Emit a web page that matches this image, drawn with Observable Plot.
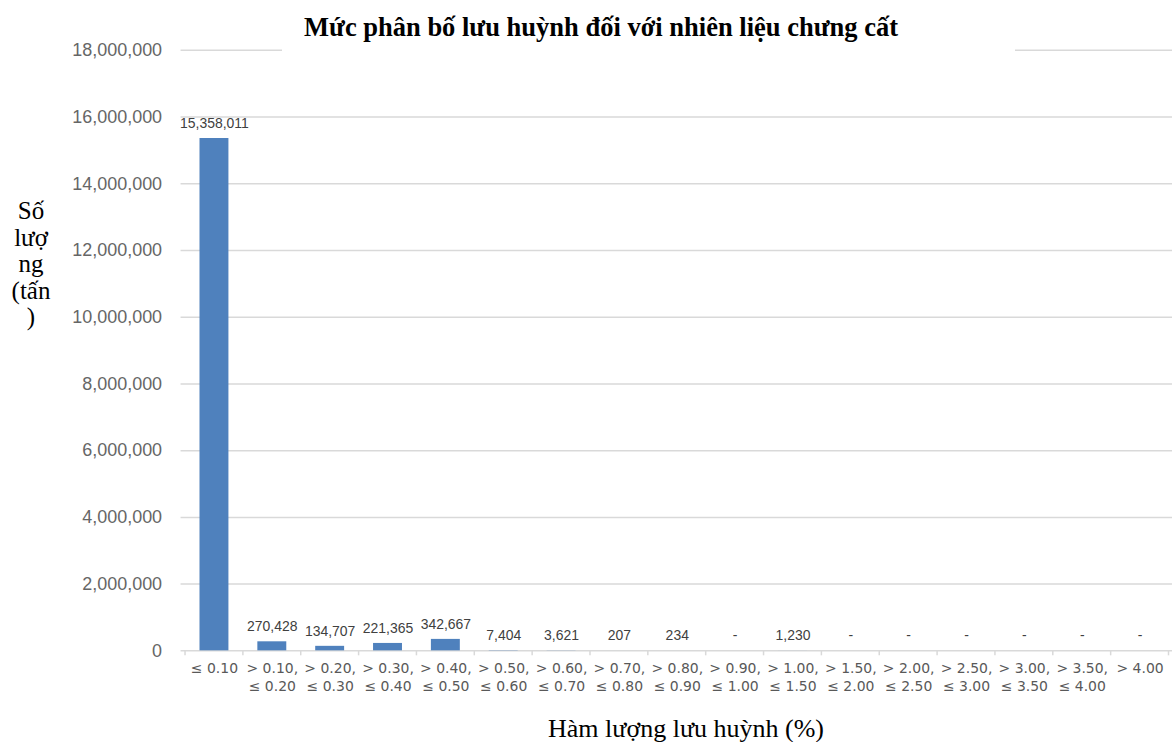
<!DOCTYPE html>
<html><head><meta charset="utf-8">
<script src="https://cdn.jsdelivr.net/npm/d3@7"></script>
<script src="https://cdn.jsdelivr.net/npm/@observablehq/plot@0.6"></script>
<style>
html,body{margin:0;padding:0;background:#fff;overflow:hidden;}
#wrap{position:relative;width:1172px;height:742px;overflow:hidden;background:#fff;}
#chart{position:absolute;left:0;top:0;}
.serif{font-family:"Liberation Serif","Times New Roman",serif;color:#000;position:absolute;white-space:nowrap;}
#titlebg{position:absolute;left:282px;top:38px;width:733px;height:22px;background:#fff;}
#title{left:601px;top:14px;transform:translateX(-50%);font-weight:bold;font-size:26.5px;line-height:26.5px;}
#ylabel{left:31px;top:198px;transform:translateX(-50%);font-size:25px;line-height:26.5px;text-align:center;}
#xlabel{left:686px;top:716px;transform:translateX(-50%);font-size:26px;line-height:26px;}
</style></head><body>
<div id="wrap">
  <div id="chart"></div>
  <div id="titlebg"></div>
  <div id="title" class="serif">Mức phân bố lưu huỳnh đối với nhiên liệu chưng cất</div>
  <div id="ylabel" class="serif">Số<br>lượ<br>ng<br>(tấn<br>)</div>
  <div id="xlabel" class="serif">Hàm lượng lưu huỳnh (%)</div>
</div>
<script>
// Categories (sulphur content ranges, %)
const categories = [
  "≤ 0.10", "> 0.10, ≤ 0.20", "> 0.20, ≤ 0.30", "> 0.30, ≤ 0.40", "> 0.40, ≤ 0.50",
  "> 0.50, ≤ 0.60", "> 0.60, ≤ 0.70", "> 0.70, ≤ 0.80", "> 0.80, ≤ 0.90", "> 0.90, ≤ 1.00",
  "> 1.00, ≤ 1.50", "> 1.50, ≤ 2.00", "> 2.00, ≤ 2.50", "> 2.50, ≤ 3.00", "> 3.00, ≤ 3.50",
  "> 3.50, ≤ 4.00", "> 4.00"
];
// Tick labels as shown (two lines)
const tickLabels = [
  "≤ 0.10", "> 0.10,\n≤ 0.20", "> 0.20,\n≤ 0.30", "> 0.30,\n≤ 0.40", "> 0.40,\n≤ 0.50",
  "> 0.50,\n≤ 0.60", "> 0.60,\n≤ 0.70", "> 0.70,\n≤ 0.80", "> 0.80,\n≤ 0.90", "> 0.90,\n≤ 1.00",
  "> 1.00,\n≤ 1.50", "> 1.50,\n≤ 2.00", "> 2.00,\n≤ 2.50", "> 2.50,\n≤ 3.00", "> 3.00,\n≤ 3.50",
  "> 3.50,\n≤ 4.00", "> 4.00"
];
// Quantity (tonnes); 0 shown as "-"
const values = [15358011, 270428, 134707, 221365, 342667, 7404, 3621, 207, 234, 0, 1230, 0, 0, 0, 0, 0, 0];
// Y-axis ticks
const yTicks = [0, 2000000, 4000000, 6000000, 8000000, 10000000, 12000000, 14000000, 16000000, 18000000];

const data = categories.map((c, i) => ({cat: c, tick: tickLabels[i], value: values[i]}));
const fmt = d3.format(",");

// boundary tick marks between bands, computed from Plot's x scale
function bandTicks(index, scales, values, dimensions) {
  const ns = "http://www.w3.org/2000/svg";
  const g = document.createElementNS(ns, "g");
  try {
    const x = scales.x;
    const bw = typeof x.bandwidth === "function" ? x.bandwidth() : (x.bandwidth || 0);
    const step = x(categories[1]) - x(categories[0]);
    const y0 = dimensions.height - dimensions.marginBottom;
    const pos = categories.map(c => x(c) + bw / 2 - step / 2);
    pos.push(x(categories[categories.length - 1]) + bw / 2 + step / 2);
    for (const p of pos) {
      const l = document.createElementNS(ns, "line");
      l.setAttribute("x1", p); l.setAttribute("x2", p);
      l.setAttribute("y1", y0); l.setAttribute("y2", y0 + 5);
      l.setAttribute("stroke", "#d9d9d9"); l.setAttribute("stroke-width", 1.5);
      g.appendChild(l);
    }
  } catch (e) {}
  return g;
}

const chart = Plot.plot({
  width: 1175,
  height: 742,
  marginTop: 50,
  marginBottom: 90,
  marginLeft: 181,
  marginRight: 0,
  style: {fontFamily: "'Liberation Sans', Arial, sans-serif", fontSize: "18px", color: "#666666", background: "transparent", overflow: "visible"},
  x: {domain: categories, paddingInner: 0.5, paddingOuter: 0.25, axis: null},
  y: {domain: [0, 18000000], ticks: yTicks, tickFormat: fmt, tickSize: 0, tickPadding: 19, label: null},
  marks: [
    Plot.ruleY(yTicks, {stroke: "#d9d9d9", strokeWidth: 1.5}),
    bandTicks,
    Plot.barY(data, {x: "cat", y: "value", fill: "#4f81bd"}),
    Plot.text(data, {x: "cat", y: "value", text: d => d.value === 0 ? "-" : fmt(d.value),
      dy: -15, lineAnchor: "middle", fontSize: 14, fill: "#404040",
      fontFamily: "'Liberation Sans', Arial, sans-serif"}),
    Plot.text(data, {x: "cat", frameAnchor: "bottom", text: "tick", lineAnchor: "top", dy: 10,
      lineHeight: 1.25, fontSize: 14, fill: "#595959", fontFamily: "'DejaVu Sans', sans-serif"})
  ]
});
document.getElementById("chart").appendChild(chart);
</script>
</body></html>
